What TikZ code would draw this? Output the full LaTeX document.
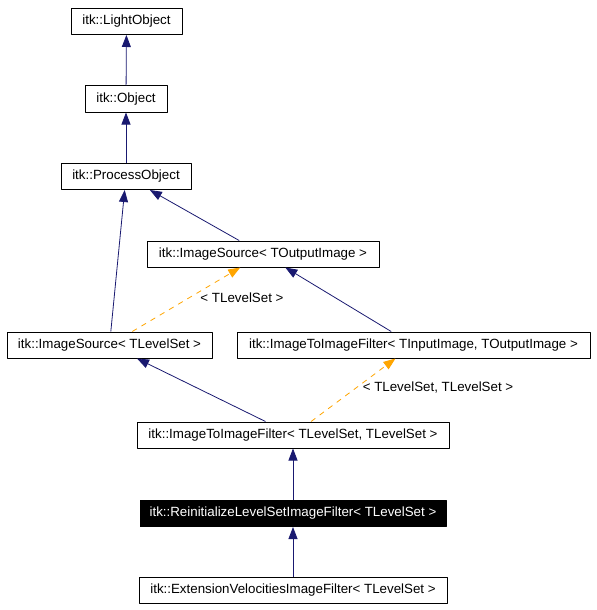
\documentclass[tikz,border=0pt]{standalone}
\usepackage{fontspec}
\setmainfont{Liberation Sans}
\usetikzlibrary{arrows.meta}

\begin{document}
\begin{tikzpicture}[x=0.75pt, y=-0.75pt, line join=round,
  cls/.style={draw=black, line width=0.75pt, inner sep=0pt, minimum height=19.5pt, font=\fontsize{10}{12}\selectfont},
  inherit/.style={draw={rgb,255:red,25;green,25;blue,112}, line width=0.6pt, -{Triangle[length=9pt, width=6.75pt]}},
  tmpl/.style={draw={rgb,255:red,255;green,165;blue,0}, line width=0.6pt, dash pattern=on 4pt off 4pt, -{Triangle[length=9pt, width=6.75pt]}},
  lbl/.style={font=\fontsize{10}{12}\selectfont}]

\useasboundingbox (0,0) rectangle (596,610);

% Classes
\node[cls, minimum width=83.25pt] (lobj) at (126.5,21.5) {itk::LightObject};
\node[cls, minimum width=61.5pt] (obj) at (126,99) {itk::Object};
\node[cls, minimum width=97.5pt] (pobj) at (126,176.5) {itk::ProcessObject};
\node[cls, minimum width=174pt] (isout) at (263,254) {itk::ImageSource< TOutputImage >};
\node[cls, minimum width=153.75pt] (isls) at (109.5,345) {itk::ImageSource< TLevelSet >};
\node[cls, minimum width=264.75pt] (itifio) at (413.5,345) {itk::ImageToImageFilter< TInputImage, TOutputImage >};
\node[cls, minimum width=234pt] (itifls) at (293,435) {itk::ImageToImageFilter< TLevelSet, TLevelSet >};
\node[cls, minimum width=229.5pt, fill=black, text=white] (reinit) at (293,513.5) {itk::ReinitializeLevelSetImageFilter< TLevelSet >};
\node[cls, minimum width=231pt] (extvel) at (293,590) {itk::ExtensionVelocitiesImageFilter< TLevelSet >};

% Inheritance
\draw[inherit] (obj) -- (lobj);
\draw[inherit] (pobj) -- (obj);
\draw[inherit] (isout) -- (pobj);
\draw[inherit] (isls) -- (pobj);
\draw[inherit] (itifio) -- (isout);
\draw[inherit] (itifls) -- (isls);
\draw[inherit] (reinit) -- (itifls);
\draw[inherit] (extvel) -- (reinit);

% Template instances
\draw[tmpl] (isls) -- (isout);
\draw[tmpl] (itifls) -- (itifio);
\node[lbl] (islsarg) at (242,298) {< TLevelSet >};
\node[lbl] (itiflsarg) at (438,388) {< TLevelSet, TLevelSet >};

\end{tikzpicture}
\end{document}
